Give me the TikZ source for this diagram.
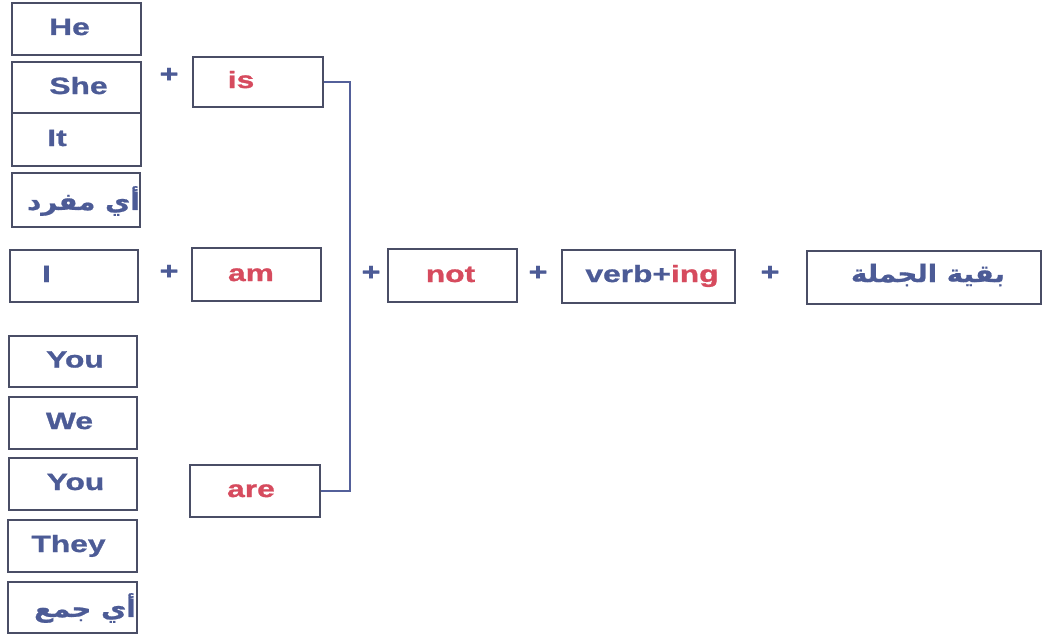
\documentclass[tikz,border=0pt]{standalone}
\usepackage{fontspec}
\setmainfont{Liberation Sans}[BoldFont={Liberation Sans Bold}, BoldFeatures={FakeStretch=1.35, FakeBold=1.2}, FakeStretch=1.35]
\newfontfamily\arabicfont[Script=Arabic, BoldFont={DejaVu Sans Bold}, BoldFeatures={FakeStretch=1.15, FakeBold=0.8}, FakeStretch=1.15]{DejaVu Sans}
\TeXXeTstate=1
\definecolor{txtblue}{HTML}{4C5B96}
\definecolor{txtred}{HTML}{D64B5E}
\definecolor{boxline}{HTML}{4A4E66}
\definecolor{conline}{HTML}{53609A}
\tikzset{
  box/.style={draw=boxline, line width=1.5pt, inner sep=0pt},
  word/.style={text=txtblue, font=\fontsize{23.5}{28}\selectfont\bfseries, inner sep=0pt, anchor=base},
  redword/.style={word, text=txtred},
  arword/.style={text=txtblue, font=\fontsize{24}{28}\selectfont\arabicfont\bfseries, inner sep=0pt},
  plus/.style={text=txtblue, font=\fontsize{24}{28}\selectfont\bfseries, inner sep=0pt},
  conn/.style={draw=conline, line width=1.5pt},
}
\begin{document}
\begin{tikzpicture}[x=1pt,y=-1pt]
\useasboundingbox (0,0) rectangle (1043,634);
% left column boxes
\node[box, minimum width=129pt, minimum height=52pt] (he) at (76.5,29) {};
\node[box, minimum width=129pt, minimum height=51pt] (she) at (76.5,87.5) {};
\node[box, minimum width=129pt, minimum height=53pt] (it) at (76.5,139.5) {};
\node[box, minimum width=128pt, minimum height=54pt] (mufrad) at (76,200) {};
\node[box, minimum width=128pt, minimum height=52pt] (i) at (74,276) {};
\node[box, minimum width=128pt, minimum height=51pt] (youa) at (73,361.5) {};
\node[box, minimum width=128pt, minimum height=52pt] (we) at (73,423) {};
\node[box, minimum width=128pt, minimum height=52pt] (youb) at (73,484) {};
\node[box, minimum width=129pt, minimum height=52pt] (they) at (72.5,546) {};
\node[box, minimum width=129pt, minimum height=51pt] (jam) at (72.5,607.5) {};
% texts
\node[word] (heT) at (69.5,35) {He};
\node[word] (sheT) at (78.5,94) {She};
\node[word] (itT) at (57,146) {It};
\node[arword, anchor=east] (mufradT) at (140,201) {\beginR أي مفرد\endR};
\node[word] (iT) at (46.5,282) {I};
\node[word] (youaT) at (75,367.5) {You};
\node[word] (weT) at (69.5,429) {We};
\node[word] (youbT) at (75.5,490) {You};
\node[word] (theyT) at (68.5,552) {They};
\node[arword, anchor=east] (jamT) at (136,608) {\beginR أي جمع\endR};
% verb boxes
\node[box, minimum width=130pt, minimum height=50pt] (is) at (258,82) {};
\node[box, minimum width=129pt, minimum height=53pt] (am) at (256.5,274.5) {};
\node[box, minimum width=130pt, minimum height=52pt] (are) at (255,491) {};
\node[redword] (isT) at (241,88) {is};
\node[redword] (amT) at (251,281) {am};
\node[redword] (areT) at (251,497) {are};
% plus signs
\node[plus] (p1) at (169,75) {+};
\node[plus] (p2) at (169,272) {+};
\node[plus] (p3) at (371,273) {+};
\node[plus] (p4) at (538,273) {+};
\node[plus] (p5) at (770,273) {+};
% right boxes
\node[box, minimum width=129pt, minimum height=53pt] (not) at (452.5,275.5) {};
\node[box, minimum width=173pt, minimum height=53pt] (verb) at (648.5,276.5) {};
\node[box, minimum width=234pt, minimum height=53pt] (rest) at (924,277.5) {};
\node[redword] (notT) at (450.5,282) {not};
\node[word] (verbT) at (652,282) {verb+\textcolor{txtred}{ing}};
\node[arword] (restT) at (928,275) {\beginR بقية الجملة\endR};
% connector
\coordinate (jx) at (350,0);
\draw[conn] (is.east) -- (is.east -| jx) -- (are.east -| jx) -- (are.east);
\end{tikzpicture}
\end{document}
